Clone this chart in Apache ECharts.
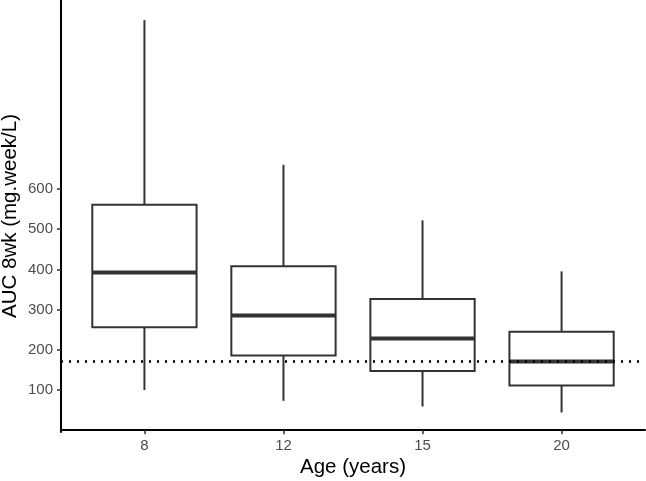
<!DOCTYPE html>
<html>
<head>
<meta charset="utf-8">
<script src="https://cdn.jsdelivr.net/npm/echarts@6/dist/echarts.min.js"></script>
<style>
html,body{margin:0;padding:0;background:#fff;}
#chart{width:646px;height:481px;}
</style>
</head>
<body>
<div id="chart"></div>
<script>
// ---- data ----
const AGE_LABELS = ['8', '12', '15', '20'];
const WHISKER_LOW = [100, 73, 59, 44];
const Q1 = [256, 186, 147, 111];
const MEDIAN = [392, 285, 228, 171];
const Q3 = [561, 408, 326, 245];
const WHISKER_HIGH = [1020, 660, 522, 395];
const REF_LINE = 171;
const Y_TICKS = [100, 200, 300, 400, 500, 600];
const X_TITLE = 'Age (years)';
const Y_TITLE = 'AUC 8wk (mg.week/L)';

// ---- styles ----
const FONT = 'Liberation Sans';
const BOX_HALF = 0.375;
const BOX_COLOR = '#333333';

const positions = AGE_LABELS.map((_, i) => i + 1);
const boxData = AGE_LABELS.map((_, i) => [positions[i], WHISKER_LOW[i], Q1[i], MEDIAN[i], Q3[i], WHISKER_HIGH[i]]);

const chart = echarts.init(document.getElementById('chart'), null, {renderer: 'canvas'});
chart.setOption({
  animation: false,
  backgroundColor: '#ffffff',
  grid: {left: 61, right: 1, top: 0, bottom: 49, containLabel: false, outerBoundsMode: 'none'},
  xAxis: {
    type: 'value',
    min: 0.4,
    max: 4.6,
    splitLine: {show: false},
    axisLine: {show: true, lineStyle: {color: '#000', width: 2}},
    axisTick: {show: true, customValues: positions, length: 4, lineStyle: {color: '#333', width: 1.5}},
    axisLabel: {
      customValues: positions,
      formatter: v => AGE_LABELS[Math.round(v) - 1],
      color: '#4d4d4d', fontSize: 15, fontFamily: FONT, margin: 6
    },
    name: X_TITLE,
    nameLocation: 'middle',
    nameGap: 25,
    nameMoveOverlap: false,
    nameTextStyle: {color: '#000', fontSize: 20.5, fontFamily: FONT}
  },
  yAxis: {
    type: 'value',
    min: -4.5,
    max: 1070,
    splitLine: {show: false},
    axisLine: {show: true, lineStyle: {color: '#000', width: 2}},
    axisTick: {show: true, customValues: Y_TICKS, length: 4, lineStyle: {color: '#333', width: 1.5}},
    axisLabel: {customValues: Y_TICKS, color: '#4d4d4d', fontSize: 15, fontFamily: FONT, margin: 8},
    name: Y_TITLE,
    nameLocation: 'middle',
    nameGap: 40,
    nameMoveOverlap: false,
    nameTextStyle: {color: '#000', fontSize: 20.5, fontFamily: FONT}
  },
  series: [{
    type: 'custom',
    data: boxData,
    encode: {x: 0, y: [1, 2, 3, 4, 5]},
    renderItem: function (params, api) {
      const x = api.value(0);
      const lo = api.value(1), q1 = api.value(2), med = api.value(3), q3 = api.value(4), hi = api.value(5);
      const tl = api.coord([x - BOX_HALF, q3]);
      const br = api.coord([x + BOX_HALF, q1]);
      const mL = api.coord([x - BOX_HALF, med]);
      const mR = api.coord([x + BOX_HALF, med]);
      const pHi = api.coord([x, hi]);
      const pQ3 = api.coord([x, q3]);
      const pQ1 = api.coord([x, q1]);
      const pLo = api.coord([x, lo]);
      const ls = {stroke: BOX_COLOR, lineWidth: 2};
      return {
        type: 'group',
        children: [
          {type: 'line', shape: {x1: pHi[0], y1: pHi[1], x2: pQ3[0], y2: pQ3[1]}, style: ls},
          {type: 'line', shape: {x1: pQ1[0], y1: pQ1[1], x2: pLo[0], y2: pLo[1]}, style: ls},
          {type: 'rect', shape: {x: tl[0], y: tl[1], width: br[0] - tl[0], height: br[1] - tl[1]},
            style: {fill: '#ffffff', stroke: BOX_COLOR, lineWidth: 2}},
          {type: 'line', shape: {x1: mL[0], y1: mL[1], x2: mR[0], y2: mR[1]}, style: {stroke: BOX_COLOR, lineWidth: 4}}
        ]
      };
    },
    markLine: {
      silent: true,
      symbol: 'none',
      label: {show: false},
      lineStyle: {color: '#000', width: 2.5, type: [2, 6]},
      data: [{yAxis: REF_LINE}]
    }
  }]
});
</script>
</body>
</html>
